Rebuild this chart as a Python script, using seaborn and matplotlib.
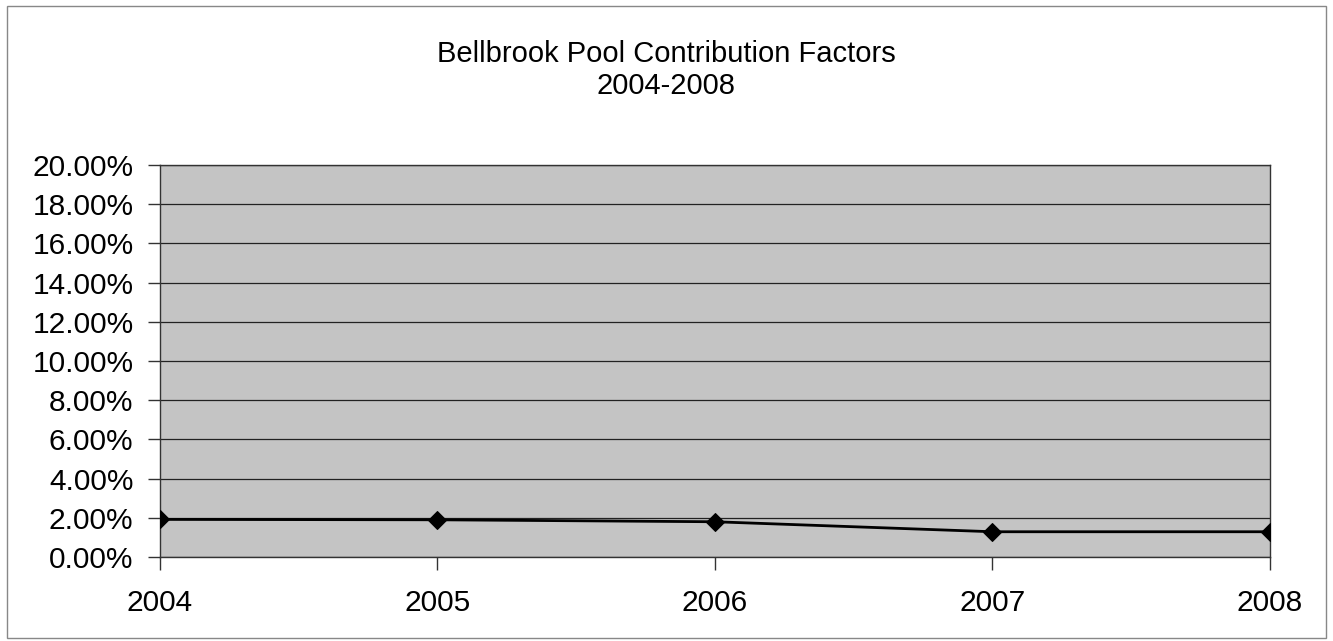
import matplotlib
matplotlib.use("Agg")
import matplotlib.pyplot as plt
from matplotlib.patches import Rectangle
from matplotlib.ticker import FuncFormatter
import pandas as pd
import seaborn as sns

years = [2004, 2005, 2006, 2007, 2008]
factors = [0.0192, 0.0190, 0.0180, 0.0129, 0.0129]
y_ticks = [i / 100 for i in range(0, 21, 2)]

sns.set_style("white")
plt.rcParams["font.family"] = ["Liberation Sans", "DejaVu Sans"]
plt.rcParams["text.color"] = "black"
plt.rcParams["xtick.labelcolor"] = "black"
plt.rcParams["ytick.labelcolor"] = "black"

df = pd.DataFrame({"Year": years, "Factor": factors})

fig = plt.figure(figsize=(13.33, 6.41), dpi=100)
ax = fig.add_axes([0.12, 0.131, 0.8327, 0.6115])
ax.set_facecolor("#c4c4c4")

sns.lineplot(data=df, x="Year", y="Factor", ax=ax, color="black", linewidth=2,
             marker="D", markersize=9, markeredgecolor="black", zorder=3)

ax.set_xlim(2004, 2008)
ax.set_ylim(0, 0.20)
ax.set_xticks(years)
ax.set_yticks(y_ticks)
ax.yaxis.set_major_formatter(FuncFormatter(lambda v, p: f"{v * 100:.2f}%"))
ax.grid(axis="y", color="#222222", linewidth=0.9)
ax.grid(axis="x", visible=False)
ax.set_axisbelow(True)
for s in ax.spines.values():
    s.set_color("#333333")
    s.set_linewidth(1)
ax.tick_params(axis="both", labelsize=21.5, length=9, width=1, color="#333333",
               direction="out", left=True, bottom=True)
ax.tick_params(axis="y", pad=10)
ax.tick_params(axis="x", pad=14)
ax.set_xlabel("")
ax.set_ylabel("")

fig.text(0.5, 0.891, "Bellbrook Pool Contribution Factors\n2004-2008",
         ha="center", va="center", fontsize=21, linespacing=1.2)

fig.patches.append(Rectangle((0.005, 0.005), 0.99, 0.985, transform=fig.transFigure,
                             fill=False, edgecolor="#888888", linewidth=1))

fig.savefig("out.png", dpi=100)
